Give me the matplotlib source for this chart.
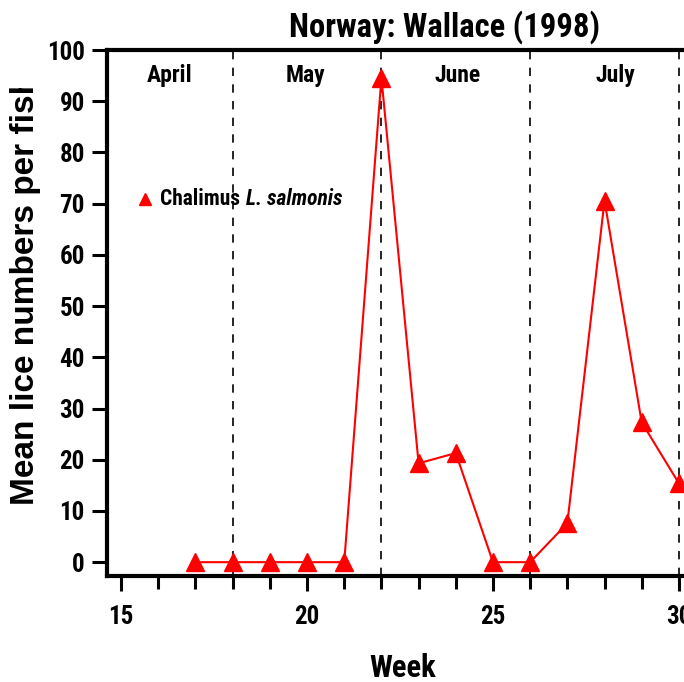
import numpy as np
import matplotlib
matplotlib.use('Agg')
import matplotlib.pyplot as plt
from matplotlib.transforms import Bbox

# data
weeks = [17, 18, 19, 20, 21, 22, 23, 24, 25, 26, 27, 28, 29, 30]
chalimus = [0, 0, 0, 0, 0, 94.6, 19.3, 21.3, 0, 0, 7.6, 70.6, 27.3, 15.4]
month_names = ['April', 'May', 'June', 'July']
month_pos = [16.3, 19.95, 24.05, 28.3]
month_bounds = [18, 22, 26, 30]

narrow = ['Roboto Condensed', 'DejaVu Sans']
plt.rcParams['font.family'] = narrow
plt.rcParams['font.weight'] = 'bold'

W, H = 684, 682
fig = plt.figure(figsize=(W / 100, H / 100), dpi=100)
ax = fig.add_axes([107 / W, 1 - 576 / H, (783 - 107) / W, (576 - 50) / H])

ax.plot(weeks, chalimus, color='red', lw=1.5, marker='^', ms=13, clip_on=False, zorder=3)

for b in month_bounds:
    ax.axvline(b, color='black', lw=1.2, ls=(0, (5, 5)), zorder=1)
for name, p in zip(month_names, month_pos):
    ax.text(p, 95, name, ha='center', va='center', fontsize=17, fontweight='bold')

# legend
ax.plot([15.65], [71], marker='^', color='red', ms=8, clip_on=False)
ax.text(16.05, 71, 'Chalimus', ha='left', va='center', fontsize=15.5, fontweight='bold')
ax.text(18.37, 71, 'L. salmonis', ha='left', va='center', fontsize=15.5,
        fontweight='bold', style='italic')

ax.set_xlim(14.62, 32.8)
ax.set_ylim(-2.7, 100)
ax.set_xticks([15, 20, 25, 30])
ax.set_xticks(np.arange(15, 33), minor=True)
ax.set_yticks(np.arange(0, 101, 10))
ax.tick_params(axis='both', which='major', direction='out', length=11, width=2.2,
               labelsize=18, pad=5)
ax.tick_params(axis='x', which='minor', direction='out', length=9, width=2.2)
ax.tick_params(axis='x', which='major', pad=10)
for lab in ax.get_xticklabels() + ax.get_yticklabels():
    lab.set_fontweight('bold')
for s in ['left', 'bottom', 'top']:
    ax.spines[s].set_linewidth(3)
ax.spines['right'].set_visible(False)

fig.text(445 / W, 1 - 27 / H, 'Norway: Wallace (1998)', ha='center', va='center',
         fontsize=23.5, fontweight='bold')
fig.text(403 / W, 1 - 668 / H, 'Week', ha='center', va='center',
         fontsize=22, fontweight='bold')
yl = fig.text(26 / W, 1 - 505 / H, 'Mean lice numbers per fish', rotation=90,
              ha='center', va='bottom', fontsize=24, fontweight='bold',
              family=['Liberation Sans', 'DejaVu Sans'])
yl.set_clip_box(Bbox.from_extents(0, 0, 100, H - 88))
yl.set_clip_on(True)

fig.savefig('out.png', dpi=100)
